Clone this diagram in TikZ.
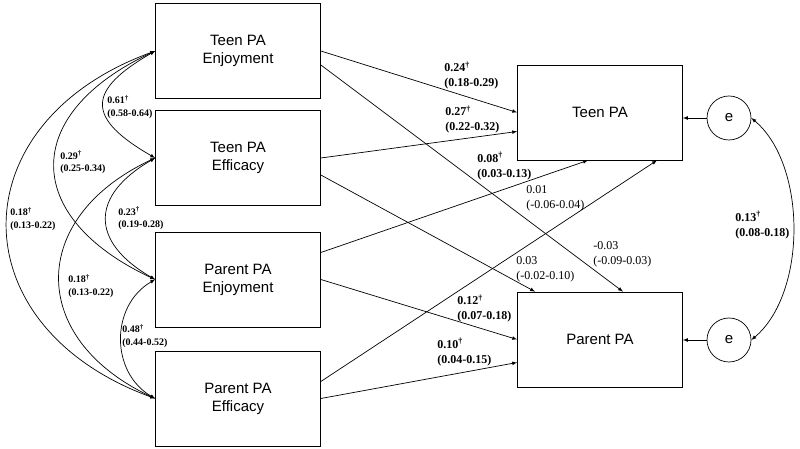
\documentclass[tikz,border=0pt]{standalone}
\usepackage{fontspec}
\setmainfont{Liberation Serif}
\setsansfont{Liberation Sans}
\usetikzlibrary{arrows,positioning}
\newcommand{\sig}{\textsuperscript{\textdagger}}

\begin{document}
\begin{tikzpicture}[->,>=latex,auto,x=1pt,y=1pt,line width=0.7pt,
    var/.style={draw,rectangle,minimum width=165pt,minimum height=95pt,inner sep=0pt,
      align=center,font=\sffamily\fontsize{15}{18}\selectfont},
    err/.style={draw,circle,minimum size=44pt,inner sep=0pt,font=\sffamily\fontsize{15}{18}\selectfont},
    coef/.style={anchor=west,align=left,inner sep=0pt,font=\bfseries\fontsize{12}{15}\selectfont},
    coefns/.style={coef,font=\fontsize{12}{15}\selectfont},
    corr/.style={anchor=west,align=left,inner sep=0pt,font=\bfseries\fontsize{10}{12.5}\selectfont}]
    \useasboundingbox (0,0) rectangle (800,449);

        % predictors
        \node[var] (TEnj) at (238,398) {Teen PA\\Enjoyment};
        \node[var] (TEff) [below of=TEnj, node distance=107pt] {Teen PA\\Efficacy};
        \node[var] (PEnj) [below of=TEff, node distance=121.5pt] {Parent PA\\Enjoyment};
        \node[var] (PEff) [below of=PEnj, node distance=119pt] {Parent PA\\Efficacy};

        % outcomes
        \node[var] (TPA) at (600,336.5) {Teen PA};
        \node[var] (PPA) [below of=TPA, node distance=227pt] {Parent PA};
        \node[err] (eT) at (729,331) {e};
        \node[err] (eP) at (729,109) {e};

        % paths
        \path (TEnj.east) edge (TPA.west)
              ([yshift=-14pt]TEnj.east) edge ([xshift=23pt]PPA.north)
              (TEff.east) edge ([yshift=-19pt]TPA.west)
              ([yshift=-17pt]TEff.east) edge ([xshift=-65pt]PPA.north)
              ([yshift=27pt]PEnj.east) edge ([xshift=-12pt]TPA.south)
              (PEnj.east) edge (PPA.west)
              ([yshift=17pt]PEff.east) edge ([xshift=57pt]TPA.south)
              (PEff.east) edge ([yshift=-23pt]PPA.west)
              (eT) edge (TPA.east |- eT)
              (eP) edge (PPA.east |- eP)
              (eT.east) edge [<->, bend left=50, looseness=0.84] (eP.east);

        % correlations
        \path (TEnj.west) edge [<->, bend right=60, looseness=1.91] (TEff.west)
                          edge [<->, bend right=65, looseness=1.66] (PEnj.west)
                          edge [<->, bend right=70, looseness=1.55] (PEff.west)
              (TEff.west) edge [<->, bend right=60, looseness=1.59] (PEnj.west)
                          edge [<->, bend right=65, looseness=1.50] (PEff.west)
              (PEnj.west) edge [<->, bend right=60, looseness=1.12] (PEff.west);

        % estimates
        \node[coef] (c24) at (444,373.5) {0.24\sig\\(0.18-0.29)};
        \node[coef] (c27) at (445,329.5) {0.27\sig\\(0.22-0.32)};
        \node[coef] (c08) at (477,283) {0.08\sig\\(0.03-0.13)};
        \node[coefns] (c01) at (526,250.5) {0.01\\(-0.06-0.04)};
        \node[coefns] (cm03) at (593,194.5) {-0.03\\(-0.09-0.03)};
        \node[coefns] (c03) at (516,179.5) {0.03\\(-0.02-0.10)};
        \node[coef] (c12) at (457,140.5) {0.12\sig\\(0.07-0.18)};
        \node[coef] (c10) at (437,97) {0.10\sig\\(0.04-0.15)};
        \node[coef] (c13) at (735,224) {0.13\sig\\(0.08-0.18)};

        \node[corr] (r61) at (107,342) {0.61\sig\\(0.58-0.64)};
        \node[corr] (r29) at (60,286.5) {0.29\sig\\(0.25-0.34)};
        \node[corr] (r18a) at (10,230) {0.18\sig\\(0.13-0.22)};
        \node[corr] (r23) at (118,230.5) {0.23\sig\\(0.19-0.28)};
        \node[corr] (r18b) at (68,163) {0.18\sig\\(0.13-0.22)};
        \node[corr] (r48) at (122,113) {0.48\sig\\(0.44-0.52)};
\end{tikzpicture}
\end{document}
